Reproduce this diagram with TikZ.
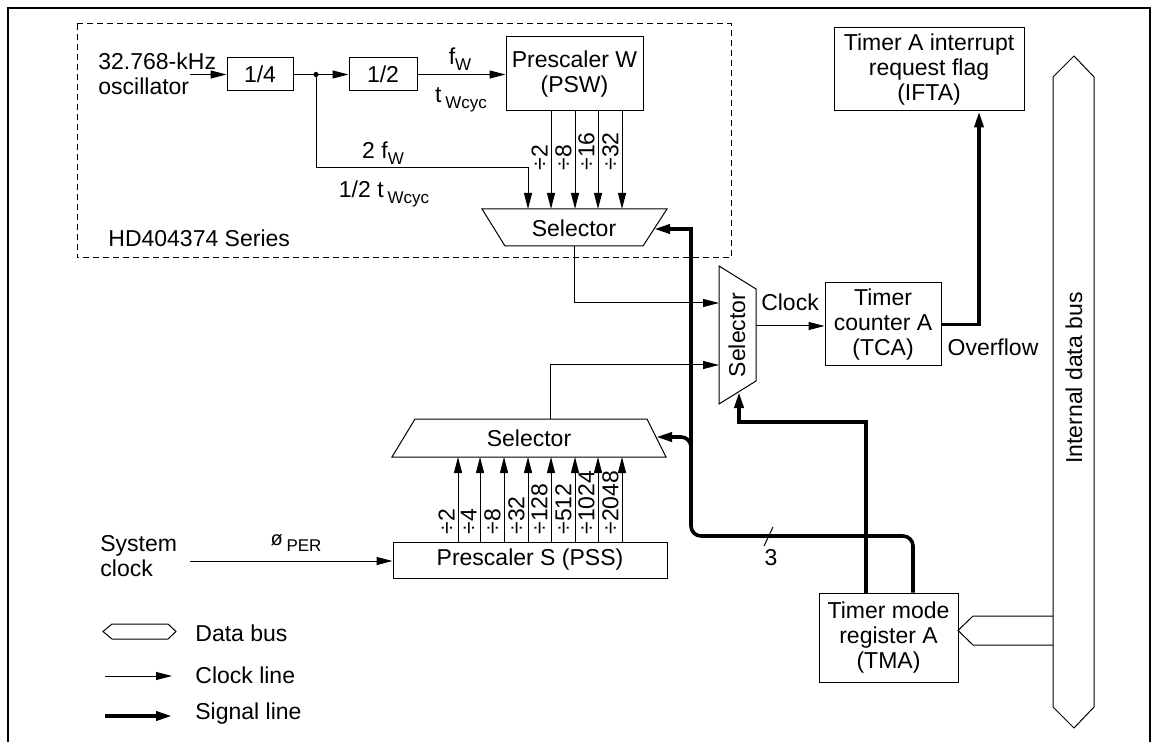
\documentclass[tikz,border=0pt]{standalone}
\usepackage{fontspec}
\setmainfont{Liberation Sans}
\usetikzlibrary{arrows.meta,positioning}
\newcommand{\lowsub}[1]{\raisebox{-0.45ex}{\fontsize{8.5}{9}\selectfont #1}}
\tikzset{
  blk/.style={draw, line width=0.5pt, align=center, inner sep=0pt},
  lbl/.style={inner sep=0pt},
  thin/.style={line width=0.5pt},
  clk/.style={line width=0.5pt, -{Triangle[length=8pt,width=4pt]}},
  sig/.style={line width=1.8pt, -{Triangle[length=8pt,width=4.5pt]}},
  divlbl/.style={rotate=90, anchor=south west, inner sep=1pt},
}
\begin{document}
\begin{tikzpicture}[x=0.5pt, y=-0.5pt, font=\fontsize{11.5}{12.5}\selectfont]
  \useasboundingbox (0,0) rectangle (1159,742);
  % Frame
  \draw[line width=1pt] (8,742) -- (8,8) -- (1150,8) -- (1150,742);
  % Watch oscillator part
  \draw[thin, dash pattern=on 3pt off 2pt] (77,24) rectangle (731,258);
  \node[lbl, anchor=west] (hd) at (108,238) {HD404374 Series};
  \node[lbl, anchor=west, align=left] (osc) at (98,74) {32.768-kHz\\oscillator};
  \node[blk, minimum width=33pt, minimum height=16.5pt] (q4) at (260,74.5) {1/4};
  \node[blk, minimum width=34pt, minimum height=16.5pt] (h2) at (383,74.5) {1/2};
  \node[blk, minimum width=68.5pt, minimum height=37pt] (psw) at (574.5,74) {Prescaler W\\(PSW)};
  \coordinate (oscin) at (190,74.5);
  \coordinate (tap) at (316,74.5);
  \fill (tap) circle (1.3pt);
  \draw[clk] (oscin) -- (q4.west);
  \draw[thin] (q4.east) -- (tap);
  \draw[clk] (tap) -- (h2.west);
  \draw[clk] (h2.east) -- (h2.east -| psw.west);
  \node[lbl] (fw) at (460,59) {f\lowsub{W}};
  \node[lbl] (tw) at (461,100) {t\,\lowsub{Wcyc}};
  \node[lbl] (fw2) at (383,153) {2 f\lowsub{W}};
  \node[lbl] (tw2) at (384,194) {1/2 t\,\lowsub{Wcyc}};
  % Selector for PSW
  \coordinate (sw1) at (482,209);
  \coordinate (sw2) at (667,209);
  \coordinate (sw3) at (643,246);
  \coordinate (sw4) at (505,246);
  \coordinate (swin) at (654,229);
  \draw[thin] (sw1) -- (sw2) -- (sw3) -- (sw4) -- cycle;
  \node[lbl] (selW) at (574,228) {Selector};
  \draw[clk] (tap) |- (528,168) -- (528,0 |- sw1);
  \foreach \x/\d in {551/2,575/8,598/16,622/32} {
    \draw[clk] (\x,0 |- psw.south) -- (\x,0 |- sw1);
    \node[divlbl] at (\x-1,173) {÷\d};
  }
  % Clock selector
  \coordinate (sc1) at (719,266);
  \coordinate (sc2) at (756,289);
  \coordinate (sc3) at (756,381);
  \coordinate (sc4) at (719,404);
  \coordinate (scin) at (739,392);
  \coordinate (scout) at (756,326);
  \draw[thin] (sc1) -- (sc2) -- (sc3) -- (sc4) -- cycle;
  \node[lbl, rotate=90] (selC) at (737,335) {Selector};
  \draw[clk] (selW |- sw4) |- (sc1 |- 0,303);
  % Selector for PSS
  \coordinate (ss1) at (415,419);
  \coordinate (ss2) at (647,419);
  \coordinate (ss3) at (666,457);
  \coordinate (ss4) at (392,457);
  \coordinate (ssin) at (656,437);
  \draw[thin] (ss1) -- (ss2) -- (ss3) -- (ss4) -- cycle;
  \node[lbl] (selS) at (529,438) {Selector};
  \draw[clk] (550,0 |- ss1) |- (sc1 |- 0,365);
  % Timer counter and flag
  \node[blk, minimum width=58pt, minimum height=41.5pt] (tca) at (883,324.5) {Timer\\counter A\\(TCA)};
  \node[blk, minimum width=95pt, minimum height=41.5pt] (ifta) at (929,69.5) {Timer A interrupt\\request flag\\(IFTA)};
  \draw[clk] (scout) -- (scout -| tca.west);
  \node[lbl] (clock) at (790,302) {Clock};
  \draw[sig] (tca.east) -| ([xshift=25pt]ifta.south);
  \node[lbl] (ovf) at (993,347) {Overflow};
  % Prescaler S
  \node[blk, minimum width=137pt, minimum height=18pt] (pss) at (530,560) {Prescaler S (PSS)};
  \foreach \x/\d in {458/2,480/4,504/8,528/32,551/128,575/512,598/1024,622/2048} {
    \draw[clk] (\x,0 |- pss.north) -- (\x,0 |- ss4);
    \node[divlbl] at (\x-1,537) {÷\d};
  }
  \node[lbl, anchor=west, align=left] (sys) at (100,556) {System\\clock};
  \coordinate (sysin) at (190,561);
  \draw[clk] (sysin) -- (sysin -| pss.west);
  \node[lbl] (per) at (296,543) {{\fontsize{10}{10}\selectfont ø}\,\lowsub{PER}};
  % Timer mode register
  \node[blk, minimum width=69.5pt, minimum height=44.5pt] (tma) at (888.5,637.5) {Timer mode\\register A\\(TMA)};
  \draw[sig, -, rounded corners=5pt] ([xshift=12.25pt]tma.north) |- (691,536) -- (691,300);
  \draw[sig] (691,301) |- (swin);
  \draw[sig, rounded corners=5pt] (691,460) |- (ssin);
  \draw[sig] ([xshift=-11.25pt]tma.north) |- (scin |- 0,422) -- (scin);
  \draw[thin] (764,546) -- (773,527);
  \node[lbl] (n3) at (771,558) {3};
  % Internal data bus
  \draw[thin, fill=white] (1053,77) -- (1074,56) -- (1094,77) -- (1094,707) -- (1074,728) -- (1053,707) -- cycle;
  \node[lbl, rotate=90] (ibus) at (1074,378) {Internal data bus};
  \draw[thin] (1053,616) -- (973,616) -- (958,630.5) -- (973,645) -- (1053,645);
  % Legend
  \draw[thin] (103,631.5) -- (112,624) -- (168,624) -- (176,631.5) -- (168,639) -- (112,639) -- cycle;
  \node[lbl, anchor=west] (lgbus) at (195,633) {Data bus};
  \draw[clk] (105,676) -- (172,676);
  \node[lbl, anchor=west] (lgclk) at (195,675) {Clock line};
  \draw[sig] (105,716) -- (172,716);
  \node[lbl, anchor=west] (lgsig) at (195,714) {Signal line};
\end{tikzpicture}
\end{document}
